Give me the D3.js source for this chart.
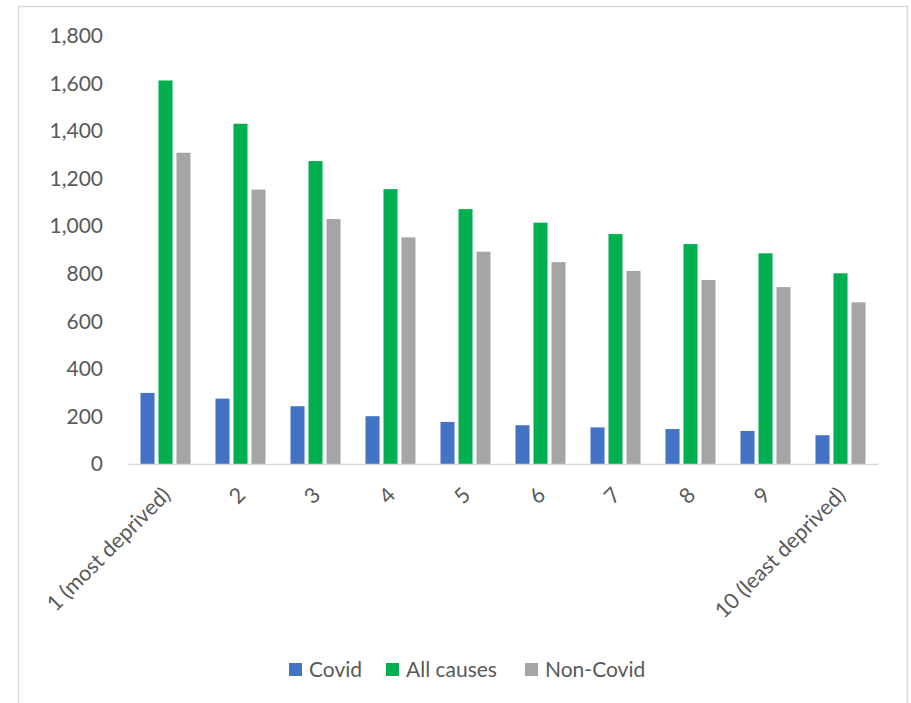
<!DOCTYPE html>
<html>
<head>
<meta charset="utf-8">
<script src="https://cdn.jsdelivr.net/npm/d3@7"></script>
<style>
  html, body { margin: 0; padding: 0; background: #fff; }
  svg { display: block; font-family: Lato, "Open Sans", sans-serif; }
</style>
</head>
<body>
<svg id="chart" width="911" height="703"></svg>
<script>
// Deaths by deprivation decile
const categories = ["1 (most deprived)", "2", "3", "4", "5", "6", "7", "8", "9", "10 (least deprived)"];
const seriesNames = ["Covid", "All causes", "Non-Covid"];
const covid = [299, 275, 243, 201, 177, 163, 154, 147, 139, 121];
const allCauses = [1613, 1431, 1274, 1156, 1072, 1015, 967, 925, 886, 802];
const nonCovid = [1309, 1154, 1030, 953, 893, 849, 812, 774, 744, 680];
const yTicks = [0, 200, 400, 600, 800, 1000, 1200, 1400, 1600, 1800];
const colors = ["#4472C4", "#00B050", "#A5A5A5"];

const seriesValues = [covid, allCauses, nonCovid];
const rows = categories.map((c, i) => ({
  category: c,
  values: seriesNames.map((s, j) => ({ series: s, value: seriesValues[j][i] }))
}));

const svg = d3.select("#chart");
const textColor = "#595959";
const fontSize = "21px";

// outer frame
svg.append("rect")
  .attr("x", 18.5).attr("y", 6.5)
  .attr("width", 889).attr("height", 720)
  .attr("fill", "none").attr("stroke", "#d9d9d9").attr("stroke-width", 1.5);

const plot = { left: 128, right: 878, top: 36, bottom: 464 };

const x = d3.scaleBand()
  .domain(categories)
  .range([plot.left, plot.right])
  .paddingInner(0).paddingOuter(0);

const inner = d3.scaleBand()
  .domain(seriesNames)
  .range([0, 50])
  .paddingInner(0.22).paddingOuter(0);

const y = d3.scaleLinear().domain([0, 1800]).range([plot.bottom, plot.top]);

// y axis labels
const yAxis = d3.axisLeft(y).tickValues(yTicks).tickSize(0).tickPadding(0)
  .tickFormat(d3.format(","));
const yg = svg.append("g").attr("transform", `translate(103,0)`).call(yAxis);
yg.select(".domain").remove();
yg.selectAll("text")
  .attr("fill", textColor)
  .style("font-size", fontSize)
  .style("font-family", "Lato, 'Open Sans', sans-serif");

// bars
const groups = svg.append("g").selectAll("g")
  .data(rows).join("g")
  .attr("transform", d => `translate(${x(d.category) + (x.bandwidth() - 50) / 2},0)`);

groups.selectAll("rect")
  .data(d => d.values).join("rect")
  .attr("x", d => inner(d.series))
  .attr("width", inner.bandwidth())
  .attr("y", d => y(d.value))
  .attr("height", d => y(0) - y(d.value))
  .attr("fill", (d, i) => colors[i]);

// category axis
const xAxis = d3.axisBottom(x).tickSize(0).tickPadding(0);
const xg = svg.append("g").attr("transform", `translate(0,${plot.bottom})`).call(xAxis);
xg.select(".domain").attr("stroke", "#d9d9d9").attr("stroke-width", 1.5);
xg.selectAll("text")
  .attr("fill", textColor)
  .style("font-size", "21.5px")
  .style("font-family", "Lato, 'Open Sans', sans-serif")
  .attr("text-anchor", "end")
  .attr("dy", "0.35em")
  .attr("transform", "translate(1,27) rotate(-45)")
  .attr("y", 0);

// legend
const legendItems = [
  { name: "Covid", x: 289 },
  { name: "All causes", x: 386 },
  { name: "Non-Covid", x: 525 }
];
const legend = svg.append("g").selectAll("g")
  .data(legendItems).join("g")
  .attr("transform", d => `translate(${d.x},663)`);
legend.append("rect")
  .attr("width", 13).attr("height", 13)
  .attr("fill", (d, i) => colors[i]);
legend.append("text")
  .attr("x", 20).attr("y", 6.5).attr("dy", "0.35em")
  .attr("fill", textColor)
  .style("font-size", fontSize)
  .text(d => d.name);
</script>
</body>
</html>
